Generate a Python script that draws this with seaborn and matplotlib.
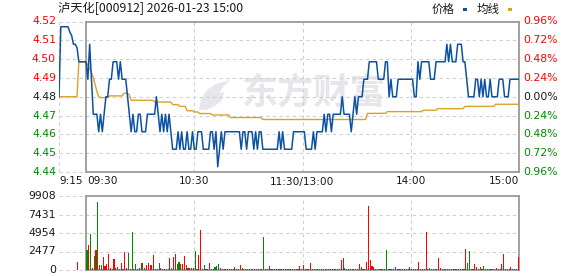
import numpy as np
import matplotlib
matplotlib.use("Agg")
import matplotlib.pyplot as plt
import matplotlib.transforms as mtransforms
from matplotlib.patches import Rectangle, Polygon
import seaborn as sns

# ---------------- data ----------------
title = "泸天化[000912] 2026-01-23 15:00"
prev_close = 4.48
pct_limit = 0.0096
price_labels = ["4.52", "4.51", "4.50", "4.49", "4.48", "4.47", "4.46", "4.45", "4.44"]
pct_labels = ["0.96%", "0.72%", "0.48%", "0.24%", "0.00%", "0.24%", "0.48%", "0.72%", "0.96%"]
vol_labels = ["9908", "7431", "4954", "2477", "0"]
vol_max = 9908
time_labels = ["9:15", "09:30", "10:30", "11:30/13:00", "14:00", "15:00"]
time_label_minutes = [0, 15, 75, 135, 195, 255]
legend_names = ["价格", "均线"]
watermark = "东方财富"

# one value per minute from 9:15 (index 0) to 15:00 (index 255)
price = [
    4.48, 4.52, 4.52, 4.52, 4.52, 4.52, 4.517, 4.515, 4.51, 4.51, 4.508, 4.50, 4.50, 4.50, 4.50, 4.50,
    4.49, 4.51, 4.49, 4.47, 4.47, 4.47, 4.46, 4.47, 4.46, 4.47, 4.48, 4.48, 4.49, 4.49, 4.50, 4.50,
    4.50, 4.49, 4.50, 4.49, 4.49, 4.49, 4.48, 4.47, 4.46, 4.47, 4.46, 4.46, 4.47, 4.47, 4.46, 4.46,
    4.46, 4.47, 4.47, 4.47, 4.47, 4.47, 4.48, 4.47, 4.46, 4.47, 4.46, 4.47, 4.46, 4.47, 4.46, 4.45,
    4.45, 4.45, 4.46, 4.45, 4.46, 4.45, 4.45, 4.46, 4.45, 4.45, 4.46, 4.45, 4.45, 4.46, 4.46, 4.46,
    4.45, 4.45, 4.45, 4.45, 4.46, 4.46, 4.45, 4.46, 4.44, 4.45, 4.46, 4.45, 4.46, 4.46, 4.46, 4.46,
    4.46, 4.46, 4.46, 4.46, 4.46, 4.45, 4.46, 4.46, 4.45, 4.46, 4.46, 4.46, 4.45, 4.46, 4.45, 4.46,
    4.46, 4.45, 4.45, 4.45, 4.45, 4.45, 4.45, 4.45, 4.45, 4.45, 4.46, 4.45, 4.46, 4.45, 4.45, 4.45,
    4.45, 4.45, 4.46, 4.46, 4.46, 4.46, 4.46, 4.46, 4.46, 4.45, 4.45, 4.45, 4.45, 4.46, 4.45, 4.46,
    4.46, 4.46, 4.46, 4.47, 4.46, 4.47, 4.47, 4.46, 4.47, 4.47, 4.47, 4.47, 4.47, 4.48, 4.47, 4.47,
    4.47, 4.47, 4.46, 4.47, 4.48, 4.47, 4.48, 4.48, 4.48, 4.49, 4.49, 4.49, 4.50, 4.50, 4.50, 4.50,
    4.50, 4.49, 4.49, 4.49, 4.49, 4.50, 4.50, 4.48, 4.49, 4.48, 4.48, 4.48, 4.49, 4.49, 4.49, 4.49,
    4.49, 4.49, 4.49, 4.49, 4.49, 4.48, 4.48, 4.50, 4.49, 4.50, 4.50, 4.50, 4.50, 4.50, 4.49, 4.49,
    4.49, 4.50, 4.50, 4.50, 4.50, 4.50, 4.50, 4.51, 4.50, 4.51, 4.50, 4.50, 4.50, 4.51, 4.51, 4.51,
    4.50, 4.50, 4.49, 4.48, 4.48, 4.48, 4.48, 4.49, 4.49, 4.48, 4.49, 4.48, 4.49, 4.48, 4.48, 4.49,
    4.48, 4.48, 4.48, 4.48, 4.49, 4.49, 4.49, 4.48, 4.48, 4.48, 4.49, 4.49, 4.49, 4.49, 4.49, 4.49,
]

avg_price = [
    4.48, 4.48, 4.48, 4.48, 4.48, 4.48, 4.48, 4.48, 4.48, 4.48, 4.48, 4.50, 4.50, 4.50, 4.50, 4.50,
    4.498, 4.496, 4.494, 4.491, 4.487, 4.483, 4.480, 4.4795, 4.4795, 4.4795, 4.4795, 4.4795, 4.4805, 4.4805, 4.4805, 4.4805,
    4.4805, 4.4805, 4.4805, 4.4805, 4.482, 4.482, 4.482, 4.481, 4.478, 4.478, 4.478, 4.478, 4.478, 4.478, 4.478, 4.478,
    4.478, 4.478, 4.478, 4.478, 4.478, 4.477, 4.477, 4.477, 4.477, 4.477, 4.477, 4.477, 4.477, 4.477, 4.477, 4.4755,
    4.4755, 4.4755, 4.4755, 4.4745, 4.4745, 4.4745, 4.4745, 4.472, 4.472, 4.472, 4.472, 4.4713, 4.4713, 4.4713, 4.4704, 4.4704,
    4.4704, 4.4704, 4.4704, 4.4704, 4.4704, 4.4696, 4.4696, 4.4696, 4.4696, 4.4696, 4.4696, 4.4696, 4.4696, 4.4696, 4.4696, 4.4681,
    4.4681, 4.4681, 4.4681, 4.4681, 4.4681, 4.4681, 4.4681, 4.4681, 4.4681, 4.4681, 4.4681, 4.4681, 4.4681, 4.4681, 4.4681, 4.4681,
    4.4681, 4.4670, 4.4670, 4.4670, 4.4670, 4.4670, 4.4670, 4.4670, 4.4670, 4.4670, 4.4670, 4.4670, 4.4670, 4.4670, 4.4670, 4.4670,
    4.4670, 4.4670, 4.4670, 4.4670, 4.4670, 4.4670, 4.4670, 4.4670, 4.4670, 4.4670, 4.4670, 4.4670, 4.4670, 4.4670, 4.4670, 4.4670,
    4.4670, 4.4670, 4.4670, 4.4670, 4.4670, 4.4670, 4.4670, 4.4670, 4.4670, 4.4670, 4.4670, 4.4670, 4.4670, 4.4670, 4.4670, 4.4670,
    4.4670, 4.4670, 4.4670, 4.4670, 4.4670, 4.4670, 4.4670, 4.4670, 4.4670, 4.4670, 4.4670, 4.4705, 4.4705, 4.4705, 4.4705, 4.4705,
    4.4705, 4.4705, 4.4705, 4.4705, 4.4705, 4.4705, 4.4715, 4.4715, 4.4715, 4.4715, 4.4715, 4.4715, 4.4715, 4.4715, 4.4715, 4.4715,
    4.4715, 4.4715, 4.4715, 4.4715, 4.4715, 4.4715, 4.4715, 4.4715, 4.4715, 4.4715, 4.4723, 4.4723, 4.4723, 4.4723, 4.4723, 4.4723,
    4.4723, 4.4723, 4.4732, 4.4732, 4.4732, 4.4732, 4.4732, 4.4732, 4.4732, 4.4732, 4.4732, 4.4732, 4.4732, 4.4732, 4.4732, 4.4732,
    4.4732, 4.4745, 4.4745, 4.4745, 4.4745, 4.4745, 4.4745, 4.4745, 4.4745, 4.4745, 4.4745, 4.4745, 4.4745, 4.4745, 4.4745, 4.4745,
    4.4745, 4.4745, 4.4757, 4.4757, 4.4757, 4.4757, 4.4757, 4.4757, 4.4757, 4.4757, 4.4757, 4.4757, 4.4757, 4.4757, 4.4757, 4.4757,
]

volume = [
    0, 0, 0, 0, 0, 0, 0, 0, 0, 0, 1026, 0, 0, 0, 0, 2678,
    3347, 4820, 310, 1874, 2678, 9150, 670, 670, 1740, 535, 803, 2142, 312, 180, 1473, 312,
    446, 180, 937, 180, 2410, 312, 2276, 150, 5088, 180, 803, 150, 223, 937, 937, 312,
    670, 937, 620, 670, 2008, 180, 150, 937, 223, 180, 180, 180, 180, 1651, 312, 1740,
    2142, 803, 1071, 759, 759, 1874, 670, 223, 312, 223, 268, 2544, 180, 2008, 5355, 180,
    670, 180, 180, 937, 180, 180, 400, 490, 803, 312, 180, 150, 120, 180, 150, 120,
    150, 400, 120, 150, 670, 312, 150, 120, 180, 120, 150, 120, 90, 150, 120, 150,
    120, 4463, 150, 120, 535, 150, 120, 90, 150, 120, 150, 120, 90, 120, 150, 120,
    120, 150, 90, 120, 150, 535, 120, 670, 120, 90, 120, 937, 120, 150, 90, 120,
    90, 120, 150, 120, 90, 120, 150, 120, 90, 120, 120, 150, 1294, 1607, 268, 120,
    90, 120, 150, 120, 90, 120, 803, 400, 150, 120, 1071, 8569, 1339, 535, 357, 120,
    90, 120, 90, 150, 120, 2678, 120, 90, 120, 150, 400, 120, 90, 120, 150, 90,
    120, 150, 446, 120, 90, 120, 150, 1071, 120, 90, 150, 5088, 120, 223, 90, 120,
    120, 150, 1607, 268, 120, 90, 120, 150, 90, 120, 120, 90, 150, 120, 90, 120,
    120, 2812, 937, 2544, 120, 150, 803, 446, 120, 400, 150, 535, 120, 90, 120, 150,
    90, 120, 312, 120, 150, 803, 2142, 120, 90, 150, 400, 120, 90, 150, 1740, 0,
]

# r = up minute (red bar), g = down minute (green bar)
vol_dir = (
    "rrrrrrrrrrrrrrrg"
    "rgrgrgrgrrrrrgrr"
    "rrrgrrgrgrgrgrgr"
    "rrrrrrrgrrrgrrgr"
    "rggrrrgrrrrgrrrr"
    "grrrrrgggrrrgrrg"
    "rrrgrgrrgrrrgrrr"
    "rgrrrrgrrrgrrrrg"
    "rrgrrrrrgrrrrgrr"
    "grrrgrrrrrgrrrgr"
    "rrgrrrrrrrrrrrrr"
    "grrgrgrrgrrrrgrr"
    "rgrrrgrrrrrrrgrr"
    "grrrrrgrrgrrrrgr"
    "rrggrrrrgrrgrrgr"
    "rgrrrrrgrrrrgrrr"
)

# ---------------- style ----------------
sns.set_style("white")
plt.rcParams["font.family"] = ["DejaVu Sans", "Noto Sans CJK SC"]
CJK = ["Noto Sans CJK SC", "DejaVu Sans"]

RED = "#ff0000"
GREEN = "#008a00"
DARK = "#1a1a1a"
BLUE = "#0b52a3"
GOLD = "#dba22a"
GRID = "#cfcfcf"
FRAME = "#9a9a9a"
WM = "#e7e7eb"
DASH = (0, (3, 3))

W, H = 578, 276
fig = plt.figure(figsize=(W / 100, H / 100), dpi=100)


def fx(px):
    return px / W


def fy(py):
    return 1 - py / H


X0, X1 = 59, 519
ax = fig.add_axes([fx(X0), fy(172), fx(X1) - fx(X0), fy(21.5) - fy(172)])
axv = fig.add_axes([fx(X0), fy(270), fx(X1) - fx(X0), fy(196) - fy(270)])

minutes = np.arange(len(price))
n_last = len(price) - 1
open_idx = time_label_minutes[1]

lo = prev_close * (1 - pct_limit)
hi = prev_close * (1 + pct_limit)
levels = np.linspace(hi, lo, len(price_labels))

for a in (ax, axv):
    a.set_xlim(0, n_last)
    a.set_xticks([])
    a.set_yticks([])
    for s in ("top", "bottom", "left", "right"):
        a.spines[s].set_color(FRAME)
        a.spines[s].set_linewidth(1.3)
    a.spines["left"].set_position(("data", open_idx))
    a.spines["top"].set_bounds(open_idx, n_last)
    a.spines["bottom"].set_bounds(open_idx, n_last)
    a.set_facecolor("none")

ax.set_ylim(lo, hi)
axv.set_ylim(0, vol_max)

# grid - price panel
for i, lv in enumerate(levels):
    if i in (0, len(levels) - 1):
        ax.plot([0, open_idx], [lv, lv], color=GRID, lw=0.8, ls=DASH, clip_on=False, zorder=1)
    else:
        ax.axhline(lv, color=GRID, lw=0.8, ls=DASH, zorder=1)
ax.axvline(0, color=GRID, lw=0.8, ls=DASH, zorder=1)
for m in time_label_minutes[2:5]:
    ax.axvline(m, color=GRID, lw=0.8, ls=DASH, zorder=1)

# watermark (logo leaf + text), drawn inside the price axes below the lines
ax.text(fx(314), fy(93), watermark, transform=fig.transFigure, ha="center", va="center",
        fontsize=26, fontweight="bold", color=WM, family=CJK, zorder=0.5)
leaf = [(199, 110), (201, 99), (207, 90), (216, 84), (230, 80), (224, 86),
        (219, 93), (224, 92), (222, 100), (215, 106), (206, 110)]
ax.add_patch(Polygon([(fx(px), fy(py)) for px, py in leaf], closed=True,
                     transform=fig.transFigure, facecolor=WM, edgecolor="none",
                     zorder=0.5, clip_on=False))

# lines
sns.lineplot(x=minutes, y=avg_price, ax=ax, color=GOLD, lw=1.0, estimator=None, sort=False, zorder=3)
sns.lineplot(x=minutes, y=price, ax=ax, color=BLUE, lw=1.1, estimator=None, sort=False, zorder=4)
ax.set_xlabel("")
ax.set_ylabel("")

# price labels
tl = mtransforms.blended_transform_factory(ax.transAxes, ax.transData)
mid = len(levels) // 2
for i, (lv, lab, plab) in enumerate(zip(levels, price_labels, pct_labels)):
    col = RED if i < mid else (DARK if i == mid else GREEN)
    ax.text(-3 / (X1 - X0), lv, lab, transform=tl, ha="right", va="center",
            fontsize=7.8, color=col)
    ax.text(1 + 4 / (X1 - X0), lv, plab, transform=tl, ha="left", va="center",
            fontsize=7.8, color=col)

# time labels
tt = mtransforms.blended_transform_factory(ax.transData, fig.transFigure)
aligns = ["left", "left", "center", "center", "center", "right"]
for m, lab, al in zip(time_label_minutes, time_labels, aligns):
    xoff = 0.8 if al == "left" and m == open_idx else 0
    ax.text(m + xoff, fy(181.5), lab, transform=tt, ha=al, va="center", fontsize=7.6, color=DARK)

# volume panel grid
vlevels = np.linspace(vol_max, 0, len(vol_labels))
for i, lv in enumerate(vlevels):
    if i in (0, len(vlevels) - 1):
        axv.plot([0, open_idx], [lv, lv], color=GRID, lw=0.8, ls=DASH, clip_on=False, zorder=1)
    else:
        axv.axhline(lv, color=GRID, lw=0.8, ls=DASH, zorder=1)
for m in time_label_minutes[2:5]:
    axv.axvline(m, color=GRID, lw=0.8, ls=DASH, zorder=1)

bar_colors = [RED if c == "r" else GREEN for c in vol_dir]
axv.bar(minutes + 0.5, volume, width=0.6, color=bar_colors, linewidth=0, zorder=3)

tv = mtransforms.blended_transform_factory(axv.transAxes, axv.transData)
for lv, lab in zip(vlevels, vol_labels):
    axv.text(-3 / (X1 - X0), lv, lab, transform=tv, ha="right", va="center", fontsize=7.8, color=DARK)

# title and legend
fig.text(fx(58.5), fy(8.8), title, ha="left", va="center", fontsize=8.8, color=DARK, family=CJK)
fig.text(fx(431.5), fy(9.5), legend_names[0], ha="left", va="center", fontsize=8.3, color=DARK, family=CJK)
fig.text(fx(476.5), fy(9.5), legend_names[1], ha="left", va="center", fontsize=8.3, color=DARK, family=CJK)
fig.patches.append(Rectangle((fx(463), fy(11)), 4 / W, 3.3 / H, transform=fig.transFigure,
                             facecolor=BLUE, edgecolor="none"))
fig.patches.append(Rectangle((fx(508), fy(11)), 4 / W, 3.3 / H, transform=fig.transFigure,
                             facecolor=GOLD, edgecolor="none"))

fig.savefig("out.png", dpi=100, facecolor="white")
